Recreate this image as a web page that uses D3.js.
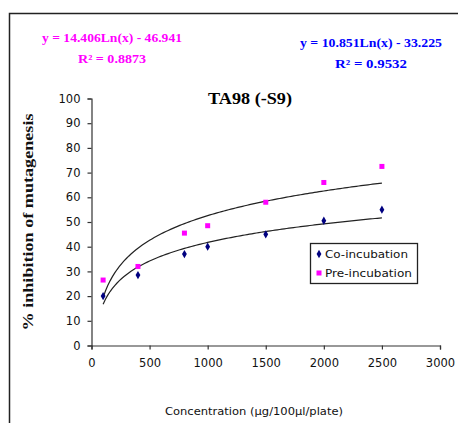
<!DOCTYPE html>
<html><head><meta charset="utf-8">
<script src="https://cdn.jsdelivr.net/npm/d3@7"></script>
<style>html,body{margin:0;padding:0;background:#fff;overflow:hidden}</style>
</head><body>
<svg id="c" width="458" height="423"></svg>
<script>
// ---- data ----
const concentrations = [100, 400, 800, 1000, 1500, 2000, 2500];
const coIncubation  = [20, 28.5, 37, 40, 45, 50.5, 55];
const preIncubation = [26.5, 32, 45.5, 48.5, 58, 66, 72.5];
const seriesNames = ["Co-incubation", "Pre-incubation"];
// logarithmic trendline coefficients shown on the chart: y = a*Ln(x) + b
const coTrend  = [10.851, -33.225];
const preTrend = [14.406, -46.941];
const coEqText  = ["y = 10.851Ln(x) - 33.225", "R² = 0.9532"];
const preEqText = ["y = 14.406Ln(x) - 46.941", "R² = 0.8873"];
const xTicks = [0, 500, 1000, 1500, 2000, 2500, 3000];
const yTicks = [0, 10, 20, 30, 40, 50, 60, 70, 80, 90, 100];
const title = "TA98 (-S9)";
const xLabel = "Concentration (µg/100µl/plate)";
const yLabel = "% inhibition of mutagenesis";

const svg = d3.select("#c");
const serif = "'Liberation Serif','Times New Roman',serif";
const sans = "'DejaVu Sans',Verdana,sans-serif";

// outer frame (top + left visible)
svg.append("path").attr("d", "M9.5,430 V13.5 H470").attr("fill", "none")
  .attr("stroke", "#222").attr("stroke-width", 1.5);

const x = d3.scaleLinear().domain([0, 3000]).range([91.5, 440]);
const y = d3.scaleLinear().domain([0, 100]).range([345.5, 98.5]);

// axes
const fmt = d3.format("d");
const xAxis = svg.append("g").attr("transform", `translate(0,${y(0)})`)
  .call(d3.axisBottom(x).tickValues(xTicks).tickFormat(fmt).tickSizeOuter(0).tickSize(4).tickPadding(9));
const yAxis = svg.append("g").attr("transform", `translate(${x(0)},0)`)
  .call(d3.axisLeft(y).tickValues(yTicks).tickFormat(fmt).tickSizeOuter(0).tickSize(4).tickPadding(7));
[xAxis, yAxis].forEach(g => {
  g.selectAll("path,line").attr("stroke", "#333").attr("stroke-width", 1.2);
  g.selectAll("text").attr("font-family", sans).attr("font-size", 11.5).attr("fill", "#111");
});

// trendlines
function trend(coef) {
  const xs = d3.range(100, 2501, 20);
  return xs.map(v => [v, coef[0] * Math.log(v) + coef[1]]);
}
const line = d3.line().x(d => x(d[0])).y(d => y(d[1]));
[coTrend, preTrend].forEach(c => {
  svg.append("path").datum(trend(c)).attr("d", line).attr("fill", "none")
    .attr("stroke", "#222").attr("stroke-width", 1.2);
});

// markers
const diamond = d3.symbol().type(d3.symbolDiamond).size(20);
svg.append("g").selectAll("path").data(concentrations).join("path")
  .attr("d", diamond)
  .attr("transform", (d, i) => `translate(${x(d)},${y(coIncubation[i])})`)
  .attr("fill", "#000080");
svg.append("g").selectAll("rect").data(concentrations).join("rect")
  .attr("x", d => x(d) - 2.5).attr("y", (d, i) => y(preIncubation[i]) - 2.5)
  .attr("width", 5).attr("height", 5).attr("fill", "#ff00ff");

// title
svg.append("text").attr("x", 250).attr("y", 104).attr("text-anchor", "middle")
  .attr("font-family", serif).attr("font-weight", "bold").attr("font-size", 17)
  .attr("textLength", 84).attr("lengthAdjust", "spacingAndGlyphs").text(title);

// equations
function eq(lines, cx, y0, color, w1, w2) {
  svg.append("text").attr("x", cx).attr("y", y0).attr("text-anchor", "middle")
    .attr("font-family", serif).attr("font-weight", "bold").attr("font-size", 13)
    .attr("fill", color).attr("textLength", w1).attr("lengthAdjust", "spacingAndGlyphs").text(lines[0]);
  svg.append("text").attr("x", cx).attr("y", y0 + 21).attr("text-anchor", "middle")
    .attr("font-family", serif).attr("font-weight", "bold").attr("font-size", 13)
    .attr("fill", color).attr("textLength", w2).attr("lengthAdjust", "spacingAndGlyphs").text(lines[1]);
}
eq(preEqText, 112, 42, "#ff00ff", 140, 68);
eq(coEqText, 371, 47, "#0000ff", 142, 72);

// axis titles
svg.append("text").attr("x", 254).attr("y", 415).attr("text-anchor", "middle")
  .attr("font-family", sans).attr("font-size", 10.5).attr("fill", "#111")
  .attr("textLength", 178).attr("lengthAdjust", "spacingAndGlyphs").text(xLabel);
svg.append("text").attr("transform", "translate(33,222) rotate(-90)").attr("text-anchor", "middle")
  .attr("font-family", serif).attr("font-weight", "bold").attr("font-size", 15).attr("fill", "#111")
  .attr("textLength", 217).attr("lengthAdjust", "spacingAndGlyphs").text(yLabel);

// legend
const lg = svg.append("g");
lg.append("rect").attr("x", 310.5).attr("y", 243.5).attr("width", 107).attr("height", 40)
  .attr("fill", "#fff").attr("stroke", "#222").attr("stroke-width", 1.3);
lg.append("path").attr("d", diamond).attr("transform", "translate(319,254)").attr("fill", "#000080");
lg.append("rect").attr("x", 316.5).attr("y", 270.5).attr("width", 5).attr("height", 5).attr("fill", "#ff00ff");
[[seriesNames[0], 258, 83], [seriesNames[1], 277, 87]].forEach(([t, yy, w]) => {
  lg.append("text").attr("x", 325).attr("y", yy).attr("font-family", sans).attr("font-size", 11)
    .attr("fill", "#111").attr("textLength", w).attr("lengthAdjust", "spacingAndGlyphs").text(t);
});
</script>
</body></html>
